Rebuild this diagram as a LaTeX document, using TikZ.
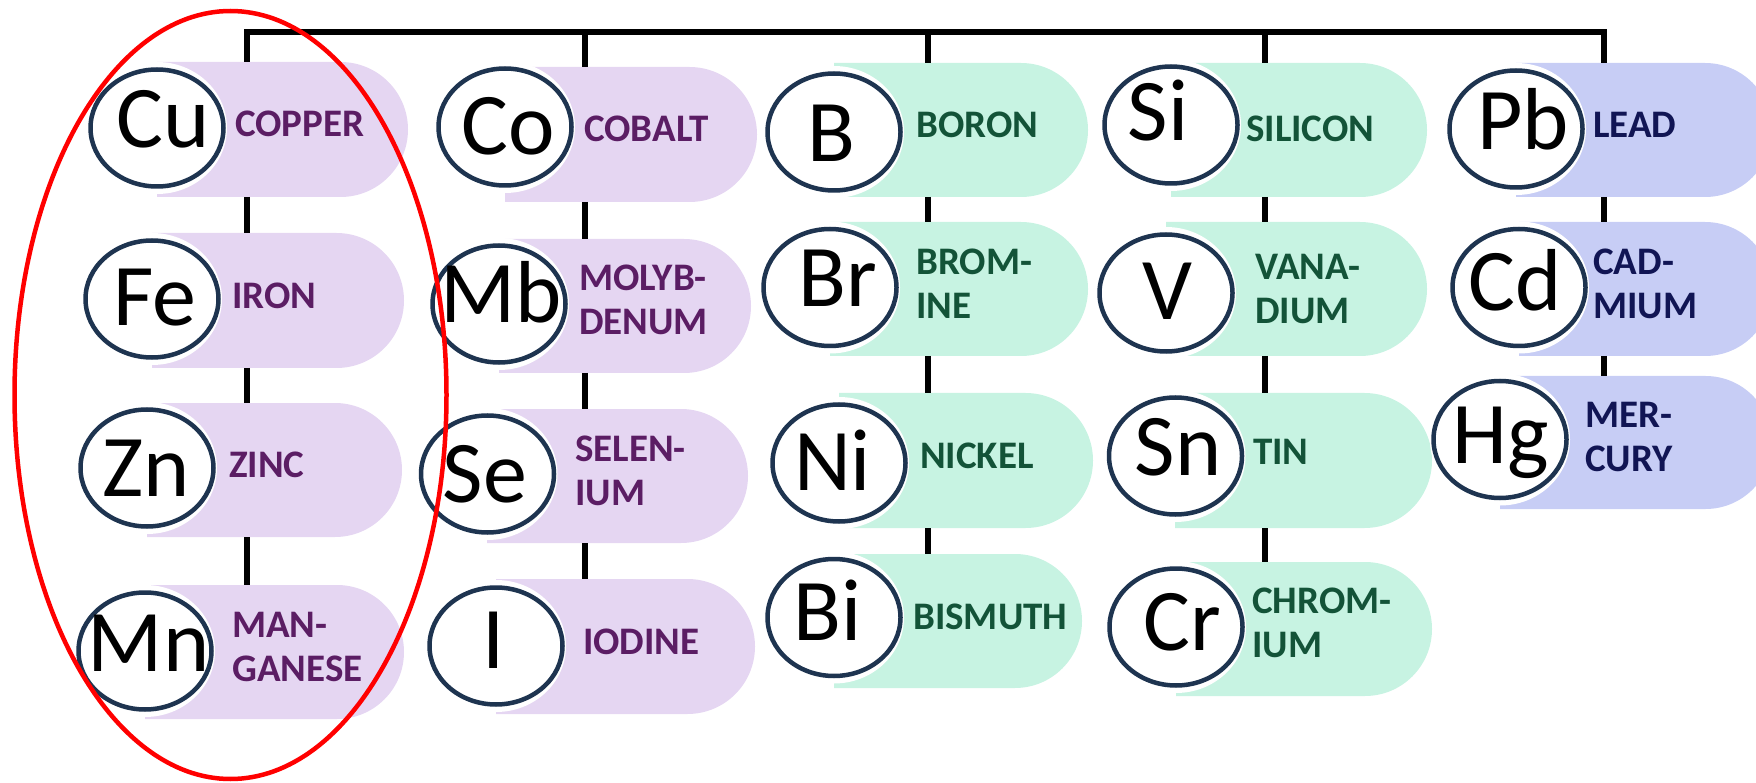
\documentclass[tikz,border=0pt]{standalone}
\usepackage{fontspec}
\setmainfont{Carlito}
\usetikzlibrary{shapes.geometric,shapes.misc}

\definecolor{lavfill}{RGB}{229,214,242}
\definecolor{lavtext}{RGB}{91,29,100}
\definecolor{mintfill}{RGB}{199,243,226}
\definecolor{minttext}{RGB}{19,83,56}
\definecolor{bluefill}{RGB}{199,205,245}
\definecolor{bluetext}{RGB}{17,21,84}
\definecolor{ringnavy}{RGB}{30,52,80}

\tikzset{
  pillshape/.style={rounded rectangle, rounded rectangle left arc=none,
    inner sep=0pt, outer sep=0pt, draw=none},
  pillL/.style={pillshape, fill=lavfill},
  pillG/.style={pillshape, fill=mintfill},
  pillB/.style={pillshape, fill=bluefill},
  ring/.style={ellipse, draw=ringnavy, line width=4.5pt, fill=white,
    minimum width=133pt, minimum height=117pt, inner sep=0pt, outer sep=0pt},
  halo/.style={fill=white},
  sym/.style={anchor=base, inner sep=0pt, text=black,
    font=\fontsize{88}{88}\selectfont},
  lbl/.style={anchor=base west, inner sep=0pt, align=left,
    font=\bfseries\fontsize{39}{44}\selectfont},
  lblL/.style={lbl, text=lavtext},
  lblG/.style={lbl, text=minttext},
  lblB/.style={lbl, text=bluetext},
  link/.style={line width=5.5pt, draw=black, line join=miter},
  groupring/.style={ellipse, draw=red, line width=4.5pt, inner sep=0pt,
    minimum width=432pt, minimum height=768pt}
}

% pill: name, style, left x, right x, top y, bottom y
\newcommand{\pillnode}[6]{%
  \node[#2, minimum width={#4-#3}, minimum height={#6-#5}]
    (#1) at ({(#3+#4)/2},{(#5+#6)/2}) {};}
% symbol disc: name, centre x, centre y
\newcommand{\disc}[3]{%
  \fill[halo] (#2,#3) ellipse [x radius=70, y radius=66];
  \node[ring] (#1) at (#2,#3) {};}

\begin{document}
\begin{tikzpicture}[x=1pt,y=-1pt]
\clip (0,0) rectangle (1756,783);
\useasboundingbox (0,0) rectangle (1756,783);

% ---- pills ----
\pillnode{pCu}{pillL}{157}{408}{62}{197}
\pillnode{pFe}{pillL}{152}{404}{233}{368}
\pillnode{pZn}{pillL}{147}{402}{403}{537}
\pillnode{pMn}{pillL}{145}{404}{585}{719}

\pillnode{pCo}{pillL}{505}{757}{67}{202}
\pillnode{pMb}{pillL}{499}{751}{239}{373}
\pillnode{pSe}{pillL}{487}{748}{409}{543}
\pillnode{pI}{pillL}{496}{755}{579}{714}

\pillnode{pB}{pillG}{834}{1088}{63}{197}
\pillnode{pBr}{pillG}{830}{1088}{222}{356}
\pillnode{pNi}{pillG}{839}{1093}{393}{528}
\pillnode{pBi}{pillG}{834}{1082}{554}{688}

\pillnode{pSi}{pillG}{1171}{1427}{63}{197}
\pillnode{pV}{pillG}{1166}{1427}{222}{356}
\pillnode{pSn}{pillG}{1175}{1432}{393}{528}
\pillnode{pCr}{pillG}{1176}{1432}{562}{696}

\pillnode{pPb}{pillB}{1516}{1772}{63}{197}
\pillnode{pCd}{pillB}{1519}{1772}{222}{356}
\pillnode{pHg}{pillB}{1500}{1772}{376}{509}

% ---- tree connectors ----
\coordinate (t1) at (247,32);
\coordinate (t2) at (585,32);
\coordinate (t3) at (928,32);
\coordinate (t4) at (1265,32);
\coordinate (t5) at (1604,32);

\draw[link] (pCu.north -| t1) -- (t1) -- (t5) -- (pPb.north -| t5);
\draw[link] (t2) -- (pCo.north -| t2);
\draw[link] (t3) -- (pB.north -| t3);
\draw[link] (t4) -- (pSi.north -| t4);

\draw[link] (pCu.south -| t1) -- (pFe.north -| t1);
\draw[link] (pFe.south -| t1) -- (pZn.north -| t1);
\draw[link] (pZn.south -| t1) -- (pMn.north -| t1);

\draw[link] (pCo.south -| t2) -- (pMb.north -| t2);
\draw[link] (pMb.south -| t2) -- (pSe.north -| t2);
\draw[link] (pSe.south -| t2) -- (pI.north -| t2);

\draw[link] (pB.south -| t3) -- (pBr.north -| t3);
\draw[link] (pBr.south -| t3) -- (pNi.north -| t3);
\draw[link] (pNi.south -| t3) -- (pBi.north -| t3);

\draw[link] (pSi.south -| t4) -- (pV.north -| t4);
\draw[link] (pV.south -| t4) -- (pSn.north -| t4);
\draw[link] (pSn.south -| t4) -- (pCr.north -| t4);

\draw[link] (pPb.south -| t5) -- (pCd.north -| t5);
\draw[link] (pCd.south -| t5) -- (pHg.north -| t5);

% ---- symbol discs ----
\disc{cCu}{157}{128}
\disc{cFe}{152}{299}
\disc{cZn}{147}{468}
\disc{cMn}{145}{651}
\disc{cCo}{505}{127}
\disc{cMb}{499}{304}
\disc{cSe}{487.5}{474}
\disc{cI}{496}{646}
\disc{cB}{834}{132}
\disc{cBr}{830}{287.5}
\disc{cNi}{839}{463}
\disc{cBi}{834}{617.5}
\disc{cSi}{1171}{125}
\disc{cV}{1166}{293}
\disc{cSn}{1175.5}{456}
\disc{cCr}{1176}{627}
\disc{cPb}{1516}{129}
\disc{cCd}{1519}{287.5}
\disc{cHg}{1500}{439.5}

% ---- symbols (baseline = cap middle + 28) ----
\node[sym] (sCu) at (163,148) {Cu};
\node[sym] (sFe) at (155,326) {Fe};
\node[sym] (sZn) at (146.5,496) {Zn};
\node[sym] (sMn) at (148.5,671) {Mn};
\node[sym] (sCo) at (508.5,155) {Co};
\node[sym] (sMb) at (501,323) {Mb};
\node[sym] (sSe) at (485,502) {Se};
\node[sym] (sI) at (494,668) {I};
\node[sym] (sB) at (831,162) {B};
\node[sym] (sBr) at (837.5,307) {Br};
\node[sym] (sNi) at (832.5,490) {Ni};
\node[sym] (sBi) at (827.5,640) {Bi};
\node[sym] (sSi) at (1158,141) {Si};
\node[sym] (sV) at (1167.5,320) {V};
\node[sym] (sSn) at (1178,475) {Sn};
\node[sym] (sCr) at (1182,650.5) {Cr};
\node[sym] (sPb) at (1523,150) {Pb};
\node[sym] (sCd) at (1515,311) {Cd};
\node[sym] (sHg) at (1501,463.5) {Hg};

% ---- names (baseline of the last line) ----
\node[lblL] (lCu) at (235,136.3) {COPPER};
\node[lblL] (lFe) at (232,308.3) {IRON};
\node[lblL] (lZn) at (229,477.3) {ZINC};
\node[lblL] (lMn) at (232,681.3) {MAN-\\GANESE};
\node[lblL] (lCo) at (584,141.3) {COBALT};
\node[lblL] (lMb) at (579,334.3) {MOLYB-\\DENUM};
\node[lblL] (lSe) at (575,505.3) {SELEN-\\IUM};
\node[lblL] (lI) at (583,654.8) {IODINE};
\node[lblG] (lB) at (916,137.3) {BORON};
\node[lblG] (lBr) at (916,318.3) {BROM-\\INE};
\node[lblG] (lNi) at (920,468.3) {NICKEL};
\node[lblG] (lBi) at (913,629.3) {BISMUTH};
\node[lblG] (lSi) at (1246,141.3) {SILICON};
\node[lblG] (lV) at (1255,323.3) {VANA-\\DIUM};
\node[lblG] (lSn) at (1253,464.3) {TIN};
\node[lblG] (lCr) at (1252,657.3) {CHROM-\\IUM};
\node[lblB] (lPb) at (1593,137.3) {LEAD};
\node[lblB] (lCd) at (1593,318.3) {CAD-\\MIUM};
\node[lblB] (lHg) at (1585,471.3) {MER-\\CURY};

% ---- highlight ring round the first group ----
\node[groupring] (grp) at (230.5,395) {};
\end{tikzpicture}
\end{document}
